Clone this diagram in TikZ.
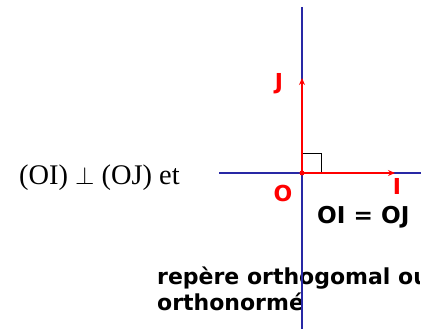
\documentclass[tikz,border=0pt]{standalone}
\usepackage{fontspec}
\setmainfont{Liberation Serif}
\newfontfamily\labfont{DejaVu Sans}
\usetikzlibrary{arrows.meta}
\definecolor{axisblue}{RGB}{40,40,165}
\tikzset{
  axisline/.style={draw=axisblue, line width=1.6pt},
  vecline/.style={draw=red, line width=1.5pt, -{Stealth[length=7pt,width=6pt]}},
  redlab/.style={text=red, font=\labfont\bfseries\fontsize{22}{26}\selectfont, inner sep=0pt},
  blacklab/.style={text=black, font=\labfont\bfseries\fontsize{22}{26}\selectfont, inner sep=0pt, anchor=base west},
  seriftext/.style={font=\fontsize{28.4}{32}\selectfont, inner sep=0pt, anchor=base west}
}
\begin{document}
\begin{tikzpicture}[x=1pt,y=-1pt]
\useasboundingbox (0,0) rectangle (437,329);
% coordinates
\coordinate (O) at (302,173);
\coordinate (J) at (302,78);
\coordinate (I) at (395,173);
\coordinate (Hl) at (219,173);
\coordinate (Hr) at (421,173);
\coordinate (Vt) at (302,7);
\coordinate (Vb) at (302,329);
\coordinate (Ra) at (302,153);
\coordinate (Rb) at (321,153);
\coordinate (Rc) at (321,173);
% text
\node[seriftext] (t1) at (19,184) {(OI) $\perp$ (OJ) et};
\begin{scope}
\clip (0,0) rectangle (419,329);
\node[blacklab] (t2) at (157,284) {repère orthogomal ou};
\end{scope}
\node[blacklab] (t3) at (157,310) {orthonormé};
\node[blacklab, font=\labfont\bfseries\fontsize{23.2}{27}\selectfont] (t4) at (317,223) {OI = OJ};
% axes
\draw[axisline] (Hl) -- (Hr);
\draw[axisline] (Vt) -- (Vb);
% right angle
\draw[black, line width=1pt] (Ra) -- (Rb) -- (Rc);
% vectors
\draw[vecline] (O) -- (J);
\draw[vecline] (O) -- (I);
\fill[red] (O) circle (2.5);
% labels
\node[redlab] (lJ) at (279,84) {J};
\node[redlab] (lO) at (283,193) {O};
\node[redlab] (lI) at (397,186) {I};
\end{tikzpicture}
\end{document}
